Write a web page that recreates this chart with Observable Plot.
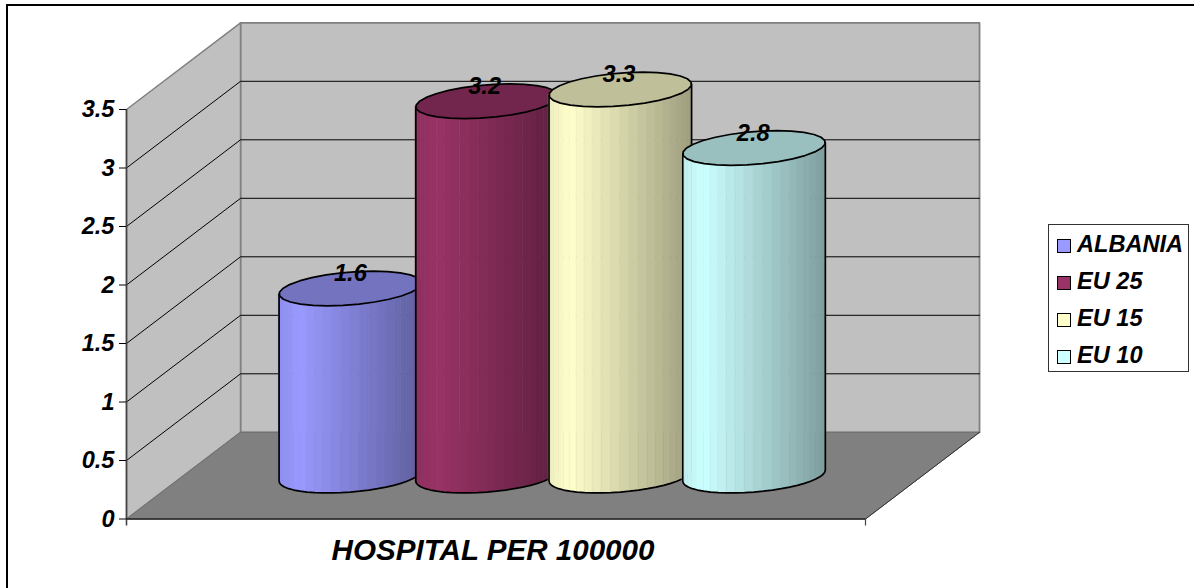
<!DOCTYPE html>
<html>
<head>
<meta charset="utf-8">
<script src="https://cdn.jsdelivr.net/npm/d3@7"></script>
<script src="https://cdn.jsdelivr.net/npm/@observablehq/plot@0.6"></script>
<style>
  html, body { margin: 0; padding: 0; background: #fff; }
  #page { position: relative; width: 1194px; height: 588px; overflow: hidden; }
  #page svg { position: absolute; left: 0; top: 0; overflow: visible; background: transparent; }
  #frame { position: absolute; left: 6px; top: 4px; width: 1300px; height: 700px; border: 2px solid #000; box-sizing: border-box; }
  #legend { position: absolute; left: 1048px; top: 224px; width: 141px; height: 148px; box-sizing: border-box;
            border: 1.5px solid #333; background: #fff; font: italic bold 23.6px "Liberation Sans", Arial, sans-serif; color: #000; }
  #legend .row { position: absolute; left: 8px; height: 26px; line-height: 26px; white-space: nowrap; }
  #legend .sw { display: inline-block; width: 12px; height: 12px; border: 1.5px solid #000; margin-right: 6px; vertical-align: -1px; }
</style>
</head>
<body>
<div id="page"><div id="frame"></div></div>
<script>
const categoryLabel = "HOSPITAL PER 100000";
const seriesNames = ["ALBANIA", "EU 25", "EU 15", "EU 10"];
const seriesValues = [1.6, 3.2, 3.3, 2.8];
const seriesColors = ["#9999ff", "#993366", "#ffffcc", "#ccffff"];
const valueTicks = [0, 0.5, 1, 1.5, 2, 2.5, 3, 3.5];

const FONT = '"Liberation Sans", Arial, sans-serif';

// Oblique 3D: a point at (u along the axis, value v, depth d in 0..1)
const DEPTH_U = 0.844, DEPTH_V = 0.741;
const uOf = (u, d) => u + d * DEPTH_U;
const vOf = (v, d) => v + d * DEPTH_V;
const U0 = -1.235, U1 = 4.235, VMAX = 3.5;

const poly = (pts) => pts.map(([u, v, d]) => ({x: uOf(u, d), y: vOf(v, d)}));

const backWall = poly([[U0, 0, 1], [U1, 0, 1], [U1, VMAX, 1], [U0, VMAX, 1], [U0, 0, 1]]);
const sideWall = poly([[U0, 0, 0], [U0, 0, 1], [U0, VMAX, 1], [U0, VMAX, 0], [U0, 0, 0]]);
const floor = poly([[U0, 0, 0], [U1, 0, 0], [U1, 0, 1], [U0, 0, 1], [U0, 0, 0]]);
const gridLines = valueTicks.slice(1, -1).flatMap((v) =>
  poly([[U0, v, 0], [U0, v, 1], [U1, v, 1]]).map((p) => ({...p, v})));

// Cylinder geometry
const R = 0.5, RD = 0.2, D = 0.5, N = 24, STEP = 0.994;
const SLOTS = [0, 1.012, 1.998, 2.988];
const TH = Math.atan((RD * DEPTH_U) / R);
const ringPoint = (c, v, t) => ({
  x: uOf(c + R * Math.cos(t), D + RD * Math.sin(t)),
  y: vOf(v, D + RD * Math.sin(t))
});
const frontT = d3.range(N + 1).map((i) => Math.PI + TH + (i / N) * Math.PI);
const xMin = (c) => ringPoint(c, 0, frontT[0]).x;
const xMax = (c) => ringPoint(c, 0, frontT[N]).x;

function shade(hex, k) {
  const c = d3.rgb(hex);
  return d3.rgb(c.r * k, c.g * k, c.b * k).formatHex();
}
const shadeAt = (s) => s < 0.15 ? 0.93 + 0.07 * s / 0.15 : 1 - 0.38 * (s - 0.15) / 0.85;

function cylinderMarks(i) {
  const c = SLOTS[i], v = seriesValues[i], col = seriesColors[i];
  const strips = d3.range(N).flatMap((k) => {
    const a = ringPoint(c, 0, frontT[k]), b = ringPoint(c, 0, frontT[k + 1]);
    const a2 = ringPoint(c, v, frontT[k]), b2 = ringPoint(c, v, frontT[k + 1]);
    const s = ((a.x + b.x) / 2 - xMin(c)) / (xMax(c) - xMin(c));
    const fill = shade(col, shadeAt(s));
    return [{x: a.x, y1: a.y, y2: a2.y, k, fill}, {x: b.x, y1: b.y, y2: b2.y, k, fill}];
  });
  const outline = [
    ringPoint(c, v, frontT[0]),
    ...frontT.map((t) => ringPoint(c, 0, t)),
    ringPoint(c, v, frontT[N])
  ];
  const top = d3.range(29).map((k) => ringPoint(c, v, (k / 28) * 2 * Math.PI));
  return [
    Plot.areaY(strips, {x: "x", y1: "y1", y2: "y2", z: "k", fill: "fill", stroke: "fill", strokeWidth: 0.6}),
    Plot.line(outline, {x: "x", y: "y", stroke: "#000", strokeWidth: 1.7, curve: "linear"}),
    Plot.line(top, {x: "x", y: "y", fill: shade(col, 0.75), stroke: "#000", strokeWidth: 1.7, curve: "linear"})
  ];
}

const labels = seriesValues.map((v, i) => ({
  x: uOf(i * STEP, D), y: vOf(v, D), t: v.toFixed(1)
}));

const chart = Plot.plot({
  width: 1194,
  height: 588,
  marginLeft: 126,
  marginRight: 329,
  marginTop: 109,
  marginBottom: 69.5,
  x: {domain: [U0, U1]},
  y: {domain: [0, VMAX]},
  color: {type: "identity"},
  style: {fontFamily: FONT, fontSize: "23.6px", fontWeight: "bold", fontStyle: "italic", color: "#000", background: "transparent", overflow: "visible"},
  marks: [
    Plot.line(backWall, {x: "x", y: "y", fill: "#c0c0c0", stroke: "#808080", strokeWidth: 1.8}),
    Plot.line(sideWall, {x: "x", y: "y", fill: "#c0c0c0", stroke: "#808080", strokeWidth: 1.5}),
    Plot.line(floor, {x: "x", y: "y", fill: "#808080", stroke: "#707070", strokeWidth: 1}),
    Plot.line(gridLines, {x: "x", y: "y", z: "v", stroke: "#000", strokeWidth: 1}),
    Plot.ruleX([U0], {y1: -0.06, y2: VMAX, stroke: "#444", strokeWidth: 1.6}),
    Plot.ruleX([U1], {y1: -0.06, y2: 0, stroke: "#444", strokeWidth: 1.2}),
    Plot.ruleY([0], {x1: U0, x2: U1, stroke: "#222", strokeWidth: 1.6}),
    Plot.line(poly([[U1, 0, 0], [U1, 0, 1]]), {x: "x", y: "y", stroke: "#333", strokeWidth: 1}),
    Plot.axisY({ticks: valueTicks, tickFormat: (d) => String(d), tickSize: 7, tickPadding: 5, label: null, stroke: "#000"}),
    Plot.axisX({ticks: [(U0 + U1) / 2 - 0.022], tickFormat: () => categoryLabel, tickSize: 0, tickPadding: 20, label: null, fontSize: 29.6}),
    ...seriesNames.flatMap((_, i) => cylinderMarks(i)),
    Plot.text(labels, {x: "x", y: "y", text: "t", dy: -15, fill: "#000"})
  ]
});
const page = document.getElementById("page");
page.appendChild(chart);

const legend = document.createElement("div");
legend.id = "legend";
seriesNames.forEach((name, i) => {
  const row = document.createElement("div");
  row.className = "row";
  row.style.top = (6 + i * 37) + "px";
  const sw = document.createElement("span");
  sw.className = "sw";
  sw.style.background = seriesColors[i];
  row.appendChild(sw);
  row.appendChild(document.createTextNode(name));
  legend.appendChild(row);
});
page.appendChild(legend);
</script>
</body>
</html>
